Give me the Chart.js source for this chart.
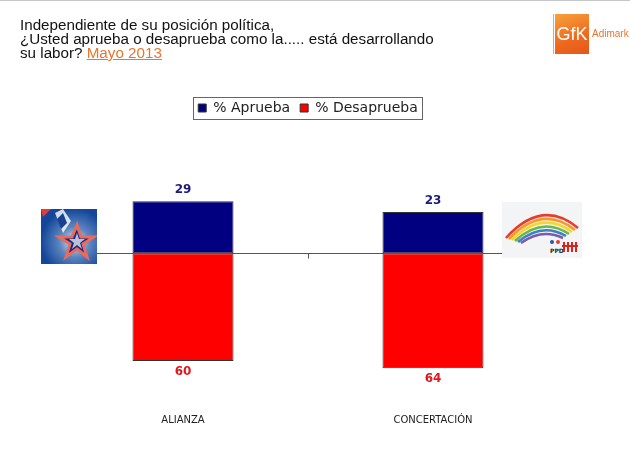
<!DOCTYPE html>
<html>
<head>
<meta charset="utf-8">
<script src="https://cdn.jsdelivr.net/npm/chart.js@4.4.0/dist/chart.umd.min.js"></script>
<style>
    html, body { margin: 0; padding: 0; background: #fff; }
    body { width: 630px; height: 454px; position: relative; overflow: hidden; border-top: 1px solid #c8c8c8; box-sizing: border-box; }
    #wrap { position: absolute; left: 0; top: 0; width: 630px; height: 454px; }
    .title {
        position: absolute; left: 20px; top: 17px;
        font-family: "Liberation Sans", Arial, sans-serif; font-size: 15.2px; line-height: 14px; color: #111;
    }
    .title .fecha { color: #e8762d; text-decoration: underline; }
    .gfk { position: absolute; left: 553px; top: 13px; width: 1px; height: 40px; background: #e9a37a; }
    .gfk-box {
        position: absolute; left: 555px; top: 13px; width: 34px; height: 40px;
        background: linear-gradient(160deg, #f7a13a 0%, #ee6a1f 60%, #e4571b 100%);
        color: #fff; font-family: "Liberation Sans Narrow", "Liberation Sans", Arial, sans-serif; font-size: 18px; line-height: 40px; text-align: center;
    }
    .gfk-txt { position: absolute; left: 592px; top: 27px; color: #e8762d; font-family: "Liberation Sans Narrow", "Liberation Sans", Arial, sans-serif; font-size: 10px; }
    .logo { position: absolute; }
</style>
</head>
<body>
<div id="wrap"><canvas id="chart" width="630" height="454"></canvas></div>

<div class="title">Independiente de su posición política,<br>¿Usted aprueba o desaprueba como la..... está desarrollando<br>su labor? <span class="fecha">Mayo 2013</span></div>
<div class="gfk"></div>
<div class="gfk-box">GfK</div>
<div class="gfk-txt">Adimark</div>

<!-- logo Alianza -->
<svg class="logo" style="left:41px;top:208px" width="56" height="55" viewBox="0 0 56 55">
    <defs>
        <radialGradient id="g1" cx="0.6" cy="0.6" r="0.6">
            <stop offset="0" stop-color="#dfe9f6"/>
            <stop offset="0.45" stop-color="#5d86c0"/>
            <stop offset="1" stop-color="#14479a"/>
        </radialGradient>
    </defs>
    <rect width="56" height="55" fill="url(#g1)"/>
    <path d="M0 0 L10 0 L2 8 Z" fill="#e23b3b"/>
    <path d="M14 4 L22 0 L30 12 L22 24 Z" fill="#ffffff" opacity="0.8"/>
    <path d="M16 10 L22 4 L26 14 L20 20 Z" fill="#16428f"/>
    <polygon points="36,16 40,28 53,28 42,35 46,48 36,40 25,48 29,35 18,28 31,28" fill="#1b2a80" stroke="#e86c5c" stroke-width="3"/>
    <polygon points="36,24 38,30 44,30 39,34 41,40 36,36 31,40 33,34 28,30 34,30" fill="#ffffff" opacity="0.7"/>
</svg>

<!-- logo Concertación -->
<svg class="logo" style="left:502px;top:201px" width="80" height="56" viewBox="0 0 80 56">
    <rect width="80" height="56" fill="#f3f4f6"/>
    <g fill="none" stroke-width="2.6">
        <path d="M4 36 Q40 -4 76 26" stroke="#e63d2e"/>
        <path d="M7 37 Q40 2 73 28" stroke="#f39a2b"/>
        <path d="M10 38 Q40 8 70 30" stroke="#f5d631"/>
        <path d="M13 39 Q40 14 67 32" stroke="#6ab84a"/>
        <path d="M16 40 Q40 20 64 34" stroke="#3f7fc7"/>
        <path d="M19 41 Q40 26 61 36" stroke="#7b5aa8"/>
    </g>
    <circle cx="50" cy="40" r="2" fill="#2a55b0"/>
    <circle cx="56" cy="40" r="2" fill="#e63d2e"/>
    <text x="48" y="51" font-family="DejaVu Sans" font-size="6" font-weight="bold" fill="#222">PPD</text>
    <path d="M60 44 h16 M62 40 v10 M66 40 v10 M70 40 v10 M74 40 v10" stroke="#d9241c" stroke-width="2"/>
</svg>

<script>
    // -----------------------------
    // Datos (Mayo 2013)
    // -----------------------------
    const categorias = ['ALIANZA', 'CONCERTACIÓN'];
    const aprueba = [29, 23];
    const desaprueba = [60, 64];
    const nombresSeries = ['% Aprueba', '% Desaprueba'];

    const AZUL = '#000080';
    const ROJO = '#ff0000';

    Chart.defaults.font.family = '"DejaVu Sans", Verdana, sans-serif';
    Chart.defaults.color = '#222';

    // línea del cero + pequeña marca entre categorías
    const lineaCero = {
        id: 'lineaCero',
        afterDatasetsDraw(chart) {
            const { ctx, chartArea, scales } = chart;
            const y0 = Math.round(scales.y.getPixelForValue(0)) + 0.5;
            ctx.save();
            ctx.strokeStyle = '#555';
            ctx.lineWidth = 1;
            ctx.beginPath();
            ctx.moveTo(chartArea.left, y0);
            ctx.lineTo(chartArea.right, y0);
            const xm = Math.round((scales.x.getPixelForValue(0) + scales.x.getPixelForValue(1)) / 2) + 0.5;
            ctx.moveTo(xm, y0);
            ctx.lineTo(xm, y0 + 5);
            ctx.stroke();
            ctx.restore();
        }
    };

    // valores sobre / bajo las barras
    const etiquetas = {
        id: 'etiquetas',
        afterDatasetsDraw(chart) {
            const ctx = chart.ctx;
            ctx.save();
            ctx.font = 'bold 12px "DejaVu Sans", Verdana, sans-serif';
            ctx.textAlign = 'center';
            ctx.textBaseline = 'middle';
            chart.data.datasets.forEach((ds, i) => {
                chart.getDatasetMeta(i).data.forEach((bar, j) => {
                    const v = ds.data[j];
                    ctx.fillStyle = i === 0 ? '#1b1b7e' : '#e3161c';
                    const y = v >= 0 ? bar.y - 11 : bar.y + 11;
                    ctx.fillText(Math.abs(v), bar.x, y);
                });
            });
            ctx.restore();
        }
    };

    // recuadro alrededor de la leyenda
    const marcoLeyenda = {
        id: 'marcoLeyenda',
        afterDraw(chart) {
            const boxes = chart.legend.legendHitBoxes;
            if (!boxes || !boxes.length) return;
            const left = Math.min(...boxes.map(b => b.left)) - 5;
            const right = Math.max(...boxes.map(b => b.left + b.width)) + 4;
            const top = boxes[0].top - 4;
            const bottom = boxes[0].top + boxes[0].height + 4;
            const ctx = chart.ctx;
            ctx.save();
            ctx.strokeStyle = '#666';
            ctx.lineWidth = 1;
            ctx.strokeRect(Math.round(left) + 0.5, Math.round(top) + 0.5, Math.round(right - left), Math.round(bottom - top));
            ctx.restore();
        }
    };

    new Chart(document.getElementById('chart').getContext('2d'), {
        type: 'bar',
        data: {
            labels: categorias,
            datasets: [{
                label: nombresSeries[0],
                data: aprueba,
                backgroundColor: AZUL,
                borderColor: '#333',
                borderWidth: 1,
                borderSkipped: false
            }, {
                label: nombresSeries[1],
                data: desaprueba.map(v => -v),
                backgroundColor: ROJO,
                borderColor: '#333',
                borderWidth: 1,
                borderSkipped: false
            }]
        },
        options: {
            responsive: false,
            animation: false,
            layout: { padding: { left: 58, right: 72, top: 90, bottom: 12 } },
            datasets: { bar: { categoryPercentage: 1, barPercentage: 0.404 } },
            scales: {
                x: {
                    stacked: true,
                    grid: { display: false, drawTicks: false },
                    border: { display: false },
                    ticks: { padding: 17, font: { size: 10 }, color: '#222' }
                },
                y: {
                    stacked: true,
                    display: false,
                    min: -80,
                    max: 71.5
                }
            },
            plugins: {
                legend: {
                    position: 'top',
                    labels: {
                        boxWidth: 8,
                        boxHeight: 8,
                        padding: 10,
                        font: { size: 14 },
                        color: '#222'
                    }
                },
                tooltip: { enabled: false }
            }
        },
        plugins: [lineaCero, etiquetas, marcoLeyenda]
    });
</script>
</body>
</html>
